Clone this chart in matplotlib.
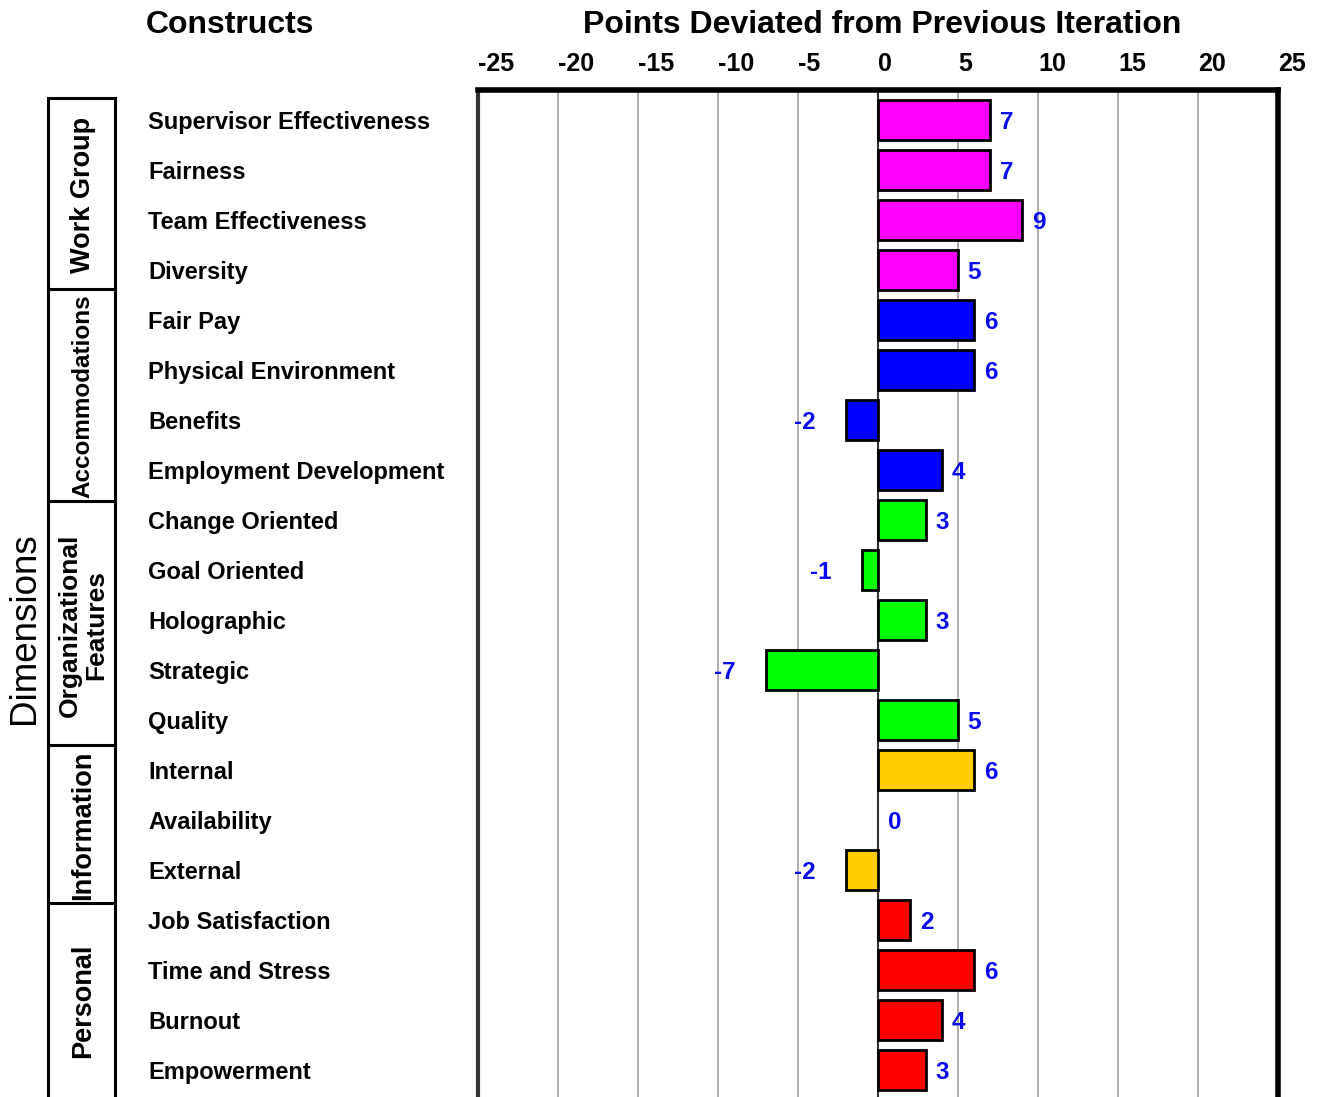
import matplotlib
matplotlib.use("Agg")
import matplotlib.pyplot as plt
from matplotlib.lines import Line2D
import numpy as np

plt.rcParams['font.family'] = ['Liberation Sans', 'DejaVu Sans']

constructs = ["Supervisor Effectiveness", "Fairness", "Team Effectiveness", "Diversity",
              "Fair Pay", "Physical Environment", "Benefits", "Employment Development",
              "Change Oriented", "Goal Oriented", "Holographic", "Strategic", "Quality",
              "Internal", "Availability", "External",
              "Job Satisfaction", "Time and Stress", "Burnout", "Empowerment"]
values = [7, 7, 9, 5,
          6, 6, -2, 4,
          3, -1, 3, -7, 5,
          6, 0, -2,
          2, 6, 4, 3]
dimensions = ["Work Group", "Accommodations", "Organizational\nFeatures", "Information", "Personal"]
dim_sizes = [4, 4, 5, 3, 4]
dim_colors = ["#ff00ff", "#0000ff", "#00ff00", "#ffcc00", "#ff0000"]
xticks = [-25, -20, -15, -10, -5, 0, 5, 10, 15, 20, 25]

colors = []
for c, n in zip(dim_colors, dim_sizes):
    colors += [c] * n

W, H = 1319, 1097
fig = plt.figure(figsize=(W / 100, H / 100), dpi=100)

def fx(px):
    return px / W

def fy(py):
    return 1 - py / H

ax = fig.add_axes([fx(478), fy(1100), fx(1278) - fx(478), fy(90) - fy(1100)])

y = np.arange(len(constructs))
bar_vals = np.array(values, dtype=float)
ax.barh(y, bar_vals, height=0.8, color=colors,
        edgecolor=["black" if v != 0 else "none" for v in values], linewidth=2, zorder=3)
ax.set_xlim(-25, 25)
ax.set_ylim(19.6, -0.6)

# grid
ax.set_xticks(xticks)
ax.xaxis.grid(True, color="#a0a0a0", linewidth=1.2, zorder=0)
ax.axvline(0, color="#333333", linewidth=1.5, zorder=2)
ax.xaxis.tick_top()
ax.tick_params(axis="x", length=0, pad=10, labelsize=18)
ax.set_xticklabels([str(t) for t in xticks], fontweight="bold")
for lbl in ax.get_xticklabels():
    lbl.set_horizontalalignment("left")

ax.set_yticks(y)
ax.set_yticklabels(constructs, fontweight="bold", fontsize=17)
ax.tick_params(axis="y", length=0, pad=(478 - 148) * 0.72)
for lbl in ax.get_yticklabels():
    lbl.set_horizontalalignment("left")

for s in ["top", "right"]:
    ax.spines[s].set_linewidth(4)
    ax.spines[s].set_color("black")
ax.spines["left"].set_linewidth(3)
ax.spines["left"].set_color("#333333")
ax.spines["bottom"].set_visible(False)

# value labels
for yi, v in zip(y, values):
    if v >= 0:
        ax.annotate(str(v), xy=(v, yi), xytext=(7, 0), textcoords="offset points",
                    ha="left", va="center_baseline", color="#0a0aee", fontweight="bold", fontsize=17.5)
    else:
        ax.annotate(str(v), xy=(v, yi), xytext=(-22, 0), textcoords="offset points",
                    ha="right", va="center_baseline", color="#0a0aee", fontweight="bold", fontsize=17.5)

# headers
fig.text(fx(230), fy(25), "Constructs", ha="center", va="center", fontsize=23, fontweight="bold")
fig.text(fx(882), fy(25), "Points Deviated from Previous Iteration", ha="center", va="center",
         fontsize=23, fontweight="bold")

# dimension boxes
bounds = [98, 289, 501, 745, 903, 1110]
xl, xr = 48, 115
lw = 2.2
fig.add_artist(Line2D([fx(xl), fx(xl)], [fy(bounds[0]), fy(bounds[-1])], color="black", lw=lw))
fig.add_artist(Line2D([fx(xr), fx(xr)], [fy(bounds[0]), fy(bounds[-1])], color="black", lw=lw))
for b in bounds[:-1]:
    fig.add_artist(Line2D([fx(xl), fx(xr)], [fy(b), fy(b)], color="black", lw=lw))
label_centers = [195, 396, 625, 825, 1001]
label_sizes = [19.5, 17.5, 19, 19.5, 19.5]
for name, cy, fs in zip(dimensions, label_centers, label_sizes):
    fig.text(fx(83), fy(cy), name, rotation=90, ha="center", va="center",
             fontsize=fs, fontweight="bold", linespacing=1.1, multialignment="center")

fig.text(fx(25), fy(628), "Dimensions", rotation=90, ha="center", va="center", fontsize=26.5)

fig.savefig("out.png", dpi=100)
